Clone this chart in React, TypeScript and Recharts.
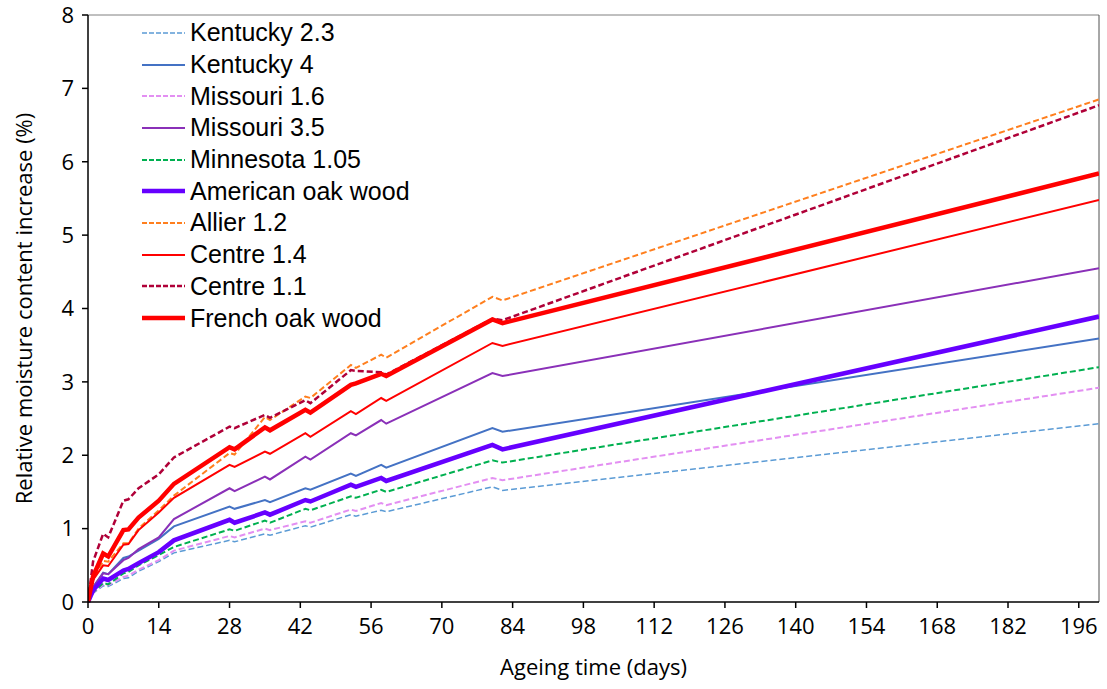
import { LineChart, Line, XAxis, YAxis, Legend, ReferenceLine } from 'recharts';

const days = [0, 1, 3, 4, 7, 8, 10, 14, 17, 28, 29, 35, 36, 43, 44, 52, 53, 58, 59, 80, 82, 200];

const kentucky23 = [0, 0.12, 0.22, 0.21, 0.32, 0.33, 0.42, 0.55, 0.67, 0.84, 0.82, 0.93, 0.91, 1.04, 1.02, 1.19, 1.17, 1.25, 1.23, 1.57, 1.52, 2.43];
const kentucky4 = [0, 0.2, 0.4, 0.38, 0.6, 0.62, 0.7, 0.86, 1.03, 1.3, 1.27, 1.39, 1.36, 1.55, 1.53, 1.75, 1.72, 1.87, 1.83, 2.37, 2.32, 3.59];
const missouri16 = [0, 0.12, 0.24, 0.23, 0.34, 0.36, 0.44, 0.57, 0.7, 0.9, 0.88, 1.0, 0.98, 1.1, 1.08, 1.26, 1.24, 1.35, 1.32, 1.69, 1.66, 2.92];
const missouri35 = [0, 0.2, 0.39, 0.38, 0.57, 0.6, 0.72, 0.88, 1.13, 1.55, 1.51, 1.71, 1.67, 1.98, 1.94, 2.3, 2.27, 2.48, 2.43, 3.12, 3.08, 4.55];
const minnesota105 = [0, 0.13, 0.26, 0.24, 0.39, 0.41, 0.5, 0.64, 0.75, 0.99, 0.97, 1.11, 1.08, 1.27, 1.25, 1.44, 1.42, 1.53, 1.5, 1.93, 1.9, 3.2];
const americanOak = [0, 0.16, 0.32, 0.3, 0.43, 0.45, 0.53, 0.68, 0.84, 1.12, 1.08, 1.22, 1.19, 1.39, 1.37, 1.6, 1.57, 1.69, 1.65, 2.14, 2.08, 3.89];
const allier12 = [0, 0.3, 0.56, 0.55, 0.8, 0.8, 1.0, 1.25, 1.45, 2.03, 2.01, 2.52, 2.48, 2.8, 2.78, 3.23, 3.19, 3.37, 3.33, 4.16, 4.11, 6.85];
const centre14 = [0, 0.3, 0.5, 0.49, 0.78, 0.79, 0.98, 1.22, 1.42, 1.87, 1.84, 2.05, 2.02, 2.3, 2.25, 2.6, 2.56, 2.78, 2.74, 3.53, 3.49, 5.48];
const centre11 = [0, 0.55, 0.93, 0.88, 1.38, 1.4, 1.55, 1.74, 1.97, 2.39, 2.37, 2.55, 2.51, 2.75, 2.71, 3.16, 3.15, 3.13, 3.1, 3.86, 3.84, 6.77];
const frenchOak = [0, 0.35, 0.66, 0.62, 0.98, 0.99, 1.15, 1.38, 1.61, 2.11, 2.08, 2.38, 2.34, 2.62, 2.58, 2.96, 2.98, 3.11, 3.08, 3.85, 3.8, 5.84];

const xTicks = [0, 14, 28, 42, 56, 70, 84, 98, 112, 126, 140, 154, 168, 182, 196];
const yTicks = [0, 1, 2, 3, 4, 5, 6, 7, 8];

const series = [
  { key: 'k23', name: 'Kentucky 2.3', values: kentucky23, color: '#5b9bd5', width: 1.5, dash: '6 3' },
  { key: 'k4', name: 'Kentucky 4', values: kentucky4, color: '#4472c4', width: 2, dash: undefined },
  { key: 'm16', name: 'Missouri 1.6', values: missouri16, color: '#e38ff2', width: 2, dash: '6 3' },
  { key: 'm35', name: 'Missouri 3.5', values: missouri35, color: '#8a30b8', width: 2, dash: undefined },
  { key: 'mn', name: 'Minnesota 1.05', values: minnesota105, color: '#00b050', width: 2, dash: '6 3' },
  { key: 'am', name: 'American oak wood', values: americanOak, color: '#6600ff', width: 4.5, dash: undefined },
  { key: 'al', name: 'Allier 1.2', values: allier12, color: '#ff7f1e', width: 2, dash: '6 3' },
  { key: 'c14', name: 'Centre 1.4', values: centre14, color: '#ff0000', width: 2, dash: undefined },
  { key: 'c11', name: 'Centre 1.1', values: centre11, color: '#b00038', width: 2.5, dash: '6 3' },
  { key: 'fr', name: 'French oak wood', values: frenchOak, color: '#ff0000', width: 4.5, dash: undefined },
];

const data = days.map((day, i) => {
  const row: Record<string, number> = { day };
  series.forEach(s => { row[s.key] = s.values[i]; });
  return row;
});

const tickFont = { fill: '#000', fontSize: 22, fontFamily: 'Open Sans' };

function LegendBox() {
  return (
    <div style={{ fontFamily: 'Liberation Sans', fontSize: 25, color: '#000' }}>
      {series.map(s => (
        <div key={s.key} style={{ display: 'flex', alignItems: 'center', height: 31.7 }}>
          <svg width={46} height={10} style={{ marginRight: 4 }}>
            <line x1={2} y1={5} x2={45} y2={5} stroke={s.color} strokeWidth={s.width} strokeDasharray={s.dash ? '5 2' : undefined} />
          </svg>
          <span>{s.name}</span>
        </div>
      ))}
    </div>
  );
}

export default function App() {
  return (
    <div style={{ position: 'absolute', left: 0, top: 0, background: '#fff' }}>
      <LineChart width={1107} height={689} data={data} margin={{ top: 15, right: 8, bottom: 0, left: 0 }}>
        <ReferenceLine y={8} stroke="#808080" strokeWidth={1} />
        <ReferenceLine x={200} stroke="#505050" strokeWidth={1} />
        <XAxis
          dataKey="day"
          type="number"
          domain={[0, 200]}
          ticks={xTicks}
          allowDataOverflow
          height={87}
          tick={tickFont}
          tickSize={6}
          tickMargin={10}
          stroke="#000"
          strokeWidth={1.5}
          label={{ value: 'Ageing time (days)', position: 'insideBottom', offset: 14, style: { fill: '#000', fontSize: 22, fontFamily: 'Open Sans' } }}
        />
        <YAxis
          type="number"
          domain={[0, 8]}
          ticks={yTicks}
          width={88}
          tick={tickFont}
          tickSize={6}
          tickMargin={8}
          stroke="#000"
          strokeWidth={1.5}
          label={{ value: 'Relative moisture content increase (%)', angle: -90, position: 'insideLeft', offset: 24, style: { textAnchor: 'middle', fill: '#000', fontSize: 22, fontFamily: 'Open Sans' } }}
        />
        <Legend
          layout="vertical"
          align="center"
          verticalAlign="middle"
          wrapperStyle={{ left: 140, top: 17, width: 320 }}
          content={() => <LegendBox />}
        />
        {series.map(s => (
          <Line
            key={s.key}
            dataKey={s.key}
            name={s.name}
            type="linear"
            stroke={s.color}
            strokeWidth={s.width}
            strokeDasharray={s.dash}
            dot={false}
            isAnimationActive={false}
          />
        ))}
      </LineChart>
    </div>
  );
}
